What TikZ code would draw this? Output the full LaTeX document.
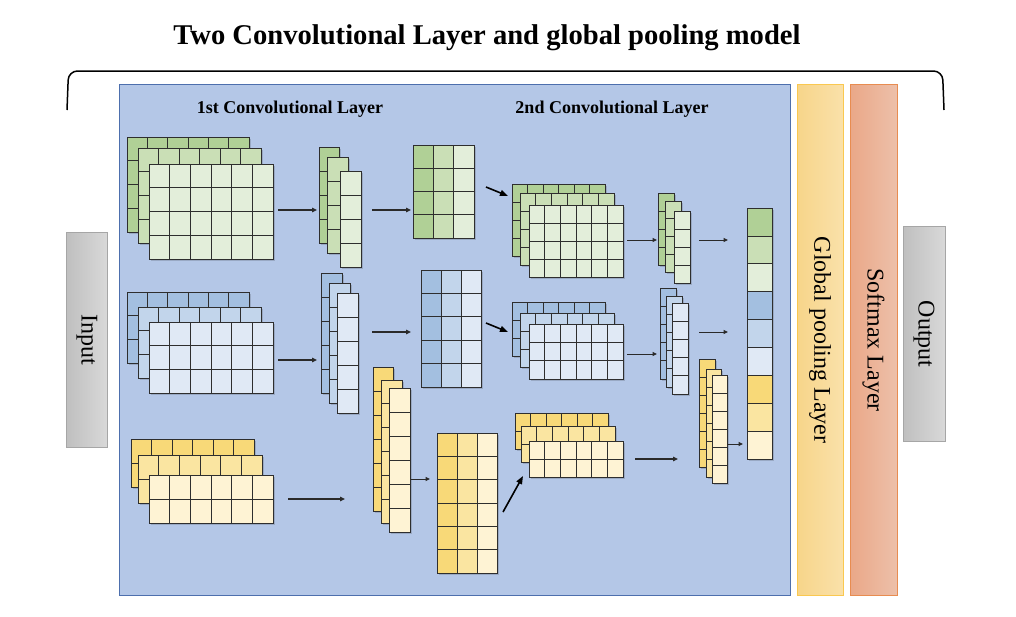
\documentclass[tikz,border=0pt]{standalone}
\usepackage{fontspec}
\setmainfont{Liberation Serif}
\usetikzlibrary{arrows.meta}
\definecolor{gA}{HTML}{B0D096}
\definecolor{gB}{HTML}{CADFB6}
\definecolor{gC}{HTML}{E3EEDA}
\definecolor{bA}{HTML}{A3BFE0}
\definecolor{bB}{HTML}{C2D5EB}
\definecolor{bC}{HTML}{E0E9F5}
\definecolor{yA}{HTML}{F8D978}
\definecolor{yB}{HTML}{FAE5A1}
\definecolor{yC}{HTML}{FEF3D4}
\definecolor{panel}{HTML}{B4C7E7}
\definecolor{panelline}{HTML}{4D6FAD}
\definecolor{cellline}{HTML}{2E2E2E}
\definecolor{arrowcol}{HTML}{2A2A2A}
\tikzset{
  cl/.style={draw=cellline, line width=0.8pt},
  shad/.style={fill=black, opacity=0.15},
  arr/.style={draw=arrowcol, line width=1.4pt, -{Triangle[length=5pt,width=4.5pt]}},
  arrthin/.style={draw=arrowcol, line width=1pt, -{Triangle[length=4.5pt,width=4pt]}},
  arrdiag/.style={draw=black, line width=1.6pt, -{Triangle[length=8pt,width=6pt]}},
  graybox/.style={draw=black!35, line width=0.8pt, left color=black!25, right color=black!15, inner sep=0pt},
  lbl/.style={font=\fontsize{24}{26}\selectfont, rotate=-90, inner sep=0pt},
  head/.style={font=\bfseries\fontsize{18}{20}\selectfont, inner sep=0pt},
}
\newcommand\cgrid[7]{%
  \fill[shad] ({#1+1.5},{#2+1.5}) rectangle ({#3+1.5},{#4+1.5});
  \fill[#7] (#1,#2) rectangle (#3,#4);
  \foreach \k in {1,...,#5}{\draw[cl] ({#1+(#3-#1)*\k/#5},#2) -- ({#1+(#3-#1)*\k/#5},#4);}
  \foreach \k in {1,...,#6}{\draw[cl] (#1,{#2+(#4-#2)*\k/#6}) -- (#3,{#2+(#4-#2)*\k/#6});}
  \draw[cl] (#1,#2) rectangle (#3,#4);
}
\newcommand\pgrid[8]{%
  \fill[shad] ({#1+1.5},{#2+1.5}) rectangle ({#3+1.5},{#4+1.5});
  \fill[#6] (#1,#2) rectangle ({#1+(#3-#1)/3},#4);
  \fill[#7] ({#1+(#3-#1)/3},#2) rectangle ({#1+2*(#3-#1)/3},#4);
  \fill[#8] ({#1+2*(#3-#1)/3},#2) rectangle (#3,#4);
  \foreach \k in {1,2}{\draw[cl] ({#1+(#3-#1)*\k/3},#2) -- ({#1+(#3-#1)*\k/3},#4);}
  \foreach \k in {1,...,#5}{\draw[cl] (#1,{#2+(#4-#2)*\k/#5}) -- (#3,{#2+(#4-#2)*\k/#5});}
  \draw[cl] (#1,#2) rectangle (#3,#4);
}
\begin{document}
\begin{tikzpicture}[x=1pt,y=-1pt]
\useasboundingbox (0,0) rectangle (1016,616);
\fill[white] (0,0) rectangle (1016,616);

% title and brace
\node[font=\bfseries\fontsize{28.6}{30}\selectfont, inner sep=0pt] (title) at (487,38) {Two Convolutional Layer and global pooling model};
\coordinate (bl) at (67,110);
\coordinate (br) at (944,110);
\draw[line width=1.5pt, rounded corners=9pt] (bl) -- (68.5,71) -- (942.5,71) -- (br);

% boxes
\node[draw=panelline, fill=panel, line width=0.9pt, minimum width=671pt, minimum height=511pt, anchor=north west, inner sep=0pt] (panel) at (119,84) {};
\node[draw=black!35, graybox, minimum width=41pt, minimum height=215pt] (input) at (87,340) {};
\node[lbl] (inputlbl) at (input.center) {Input};
\node[draw=black!35, graybox, minimum width=42pt, minimum height=215pt] (output) at (924,334) {};
\node[lbl] (outputlbl) at (output.center) {Output};
\node[draw={rgb,255:red,250;green,200;blue,80}, line width=0.9pt, left color={rgb,255:red,247;green,213;blue,138}, right color={rgb,255:red,250;green,225;blue,170}, minimum width=46pt, minimum height=511pt, anchor=north west, inner sep=0pt] (gpool) at (797,84) {};
\node[lbl] (gpoollbl) at (820,340) {Global pooling Layer};
\node[draw={rgb,255:red,232;green,140;blue,80}, line width=0.9pt, left color={rgb,255:red,234;green,168;blue,136}, right color={rgb,255:red,237;green,192;blue,170}, minimum width=47pt, minimum height=511pt, anchor=north west, inner sep=0pt] (smax) at (850,84) {};
\node[lbl] (smaxlbl) at (873.5,340) {Softmax Layer};

\node[head] (h1) at (290,109) {1st Convolutional Layer};
\node[head] (h2) at (612,109) {2nd Convolutional Layer};

% green branch
\cgrid{127}{137}{249}{232}{6}{4}{gA}
\cgrid{138}{148}{261}{243}{6}{4}{gB}
\cgrid{149}{164}{273}{259}{6}{4}{gC}
\cgrid{319}{147}{339}{243}{1}{4}{gA}
\cgrid{327}{157}{348}{253}{1}{4}{gB}
\cgrid{340}{171}{361}{267}{1}{4}{gC}
\pgrid{413}{145}{474}{238}{4}{gA}{gB}{gC}
\cgrid{512}{184}{605}{256}{6}{4}{gA}
\cgrid{520}{193}{614}{265}{6}{4}{gB}
\cgrid{529}{205}{623}{277}{6}{4}{gC}
\cgrid{658}{193}{674}{265}{1}{4}{gA}
\cgrid{665}{201}{681}{272}{1}{4}{gB}
\cgrid{674}{211}{690}{283}{1}{4}{gC}

% blue branch
\cgrid{127}{292}{249}{363}{6}{3}{bA}
\cgrid{138}{307}{261}{378}{6}{3}{bB}
\cgrid{149}{322}{273}{393}{6}{3}{bC}
\cgrid{321}{273}{342}{393}{1}{5}{bA}
\cgrid{329}{283}{350}{403}{1}{5}{bB}
\cgrid{337}{293}{358}{413}{1}{5}{bC}
\pgrid{421}{270}{481}{387}{5}{bA}{bB}{bC}
\cgrid{512}{302}{605}{356}{6}{3}{bA}
\cgrid{520}{313}{614}{367}{6}{3}{bB}
\cgrid{529}{324}{623}{379}{6}{3}{bC}
\cgrid{660}{288}{676}{379}{1}{5}{bA}
\cgrid{666}{296}{682}{387}{1}{5}{bB}
\cgrid{672}{303}{688}{394}{1}{5}{bC}

% yellow branch
\cgrid{131}{439}{254}{487}{6}{2}{yA}
\cgrid{138}{455}{262}{503}{6}{2}{yB}
\cgrid{149}{475}{273}{523}{6}{2}{yC}
\cgrid{373}{367}{393}{511}{1}{6}{yA}
\cgrid{381}{380}{402}{523}{1}{6}{yB}
\cgrid{389}{388}{410}{532}{1}{6}{yC}
\pgrid{437}{433}{497}{573}{6}{yA}{yB}{yC}
\cgrid{515}{413}{608}{449}{6}{2}{yA}
\cgrid{521}{426}{615}{462}{6}{2}{yB}
\cgrid{529}{441}{623}{477}{6}{2}{yC}
\cgrid{699}{359}{715}{467}{1}{6}{yA}
\cgrid{706}{369}{721}{477}{1}{6}{yB}
\cgrid{712}{375}{727}{483}{1}{6}{yC}

% pooled output column
\fill[shad] (748.5,209.5) rectangle (773.5,460.5);
\foreach \c [count=\i from 0] in {gA,gB,gC,bA,bB,bC,yA,yB,yC}{
  \fill[\c] (747,{208+27.9*\i}) rectangle (772,{208+27.9*(\i+1)});
  \draw[cl] (747,{208+27.9*\i}) rectangle (772,{208+27.9*(\i+1)});
}

% arrows
\coordinate (a1s) at (278,210); \coordinate (a1e) at (317,210);
\coordinate (a2s) at (372,210); \coordinate (a2e) at (411,210);
\coordinate (a3s) at (486,187); \coordinate (a3e) at (508,196);
\coordinate (a4s) at (627,240); \coordinate (a4e) at (657,240);
\coordinate (a5s) at (699,240); \coordinate (a5e) at (728,240);
\coordinate (b1s) at (278,360); \coordinate (b1e) at (317,360);
\coordinate (b2s) at (372,332); \coordinate (b2e) at (411,332);
\coordinate (b3s) at (486,323); \coordinate (b3e) at (508,332);
\coordinate (b4s) at (627,354); \coordinate (b4e) at (657,354);
\coordinate (b5s) at (699,332); \coordinate (b5e) at (728,332);
\coordinate (c1s) at (288,499); \coordinate (c1e) at (345,499);
\coordinate (c2s) at (411,479); \coordinate (c2e) at (430,479);
\coordinate (c3s) at (503,512); \coordinate (c3e) at (523,476);
\coordinate (c4s) at (635,459); \coordinate (c4e) at (678,459);
\coordinate (c5s) at (727,444); \coordinate (c5e) at (743,444);
\draw[arr] (a1s) -- (a1e);
\draw[arr] (a2s) -- (a2e);
\draw[arrdiag] (a3s) -- (a3e);
\draw[arrthin] (a4s) -- (a4e);
\draw[arrthin] (a5s) -- (a5e);
\draw[arr] (b1s) -- (b1e);
\draw[arr] (b2s) -- (b2e);
\draw[arrdiag] (b3s) -- (b3e);
\draw[arrthin] (b4s) -- (b4e);
\draw[arrthin] (b5s) -- (b5e);
\draw[arr] (c1s) -- (c1e);
\draw[arrthin] (c2s) -- (c2e);
\draw[arrdiag] (c3s) -- (c3e);
\draw[arr] (c4s) -- (c4e);
\draw[arrthin] (c5s) -- (c5e);
\end{tikzpicture}
\end{document}
